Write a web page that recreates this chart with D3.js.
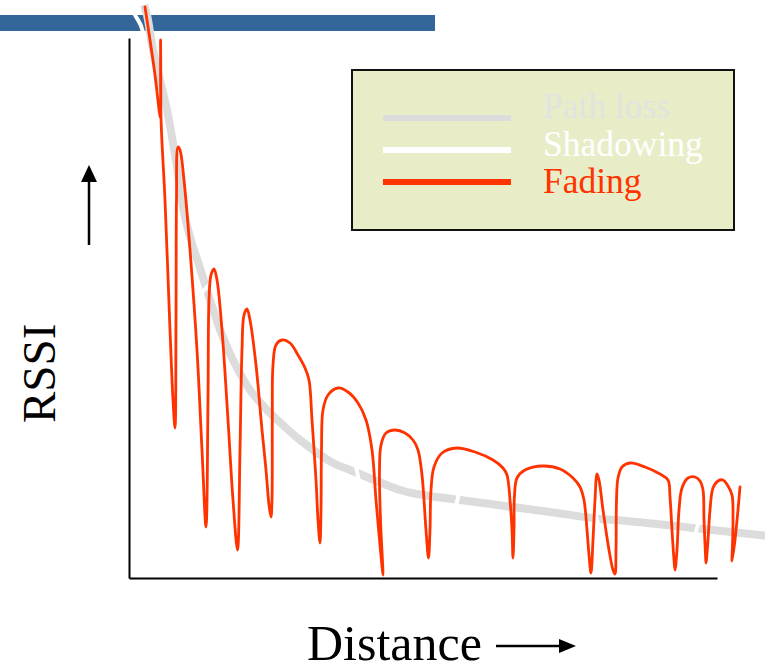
<!DOCTYPE html>
<html><head><meta charset="utf-8">
<script src="https://cdn.jsdelivr.net/npm/d3@7"></script>
<style>body{margin:0;background:#fff;} svg{display:block;}</style>
</head><body>
<svg id="chart" width="765" height="670"></svg>
<script>
// ---- data (distance units, RSSI units) ----
const fadingDist = [8,10.5,13,14.75,15.65,15.8,16,18,20.5,22,23,23.5,23.75,24.5,25.5,27.5,30.5,34,36.5,38.5,39.5,40,41,42.5,44,46.5,49.5,52,54.25,55.5,56.5,57.5,59,60.5,63.5,66.5,68.5,70,71,71.5,71.65,72,73.5,76.5,80.5,84.5,88,90,91.5,93.5,94.5,95.5,96,96.25,97,99.5,104.5,109.5,114.5,118.5,121.5,123.5,125.5,127,125.75,125.25,126,128.5,133,138,142,144.5,146.5,148.5,149.75,150.5,151,152.5,156.5,164,173,182,187,189,190.5,191.5,192,192.5,192.75,194,198,207,215.5,222,225.5,227.5,229,230,231,232,233,234,235,237,240,242,243,243.5,243.75,244.5,246.5,250.5,258,265.5,269.5,270.5,271.5,272.5,273,274,275,276.5,279.5,283,285.5,287,287.5,288.25,288.5,289.5,290.5,292,294.5,297,299.5,301.5,302,301.75,301.5,303,304.5,305.5];
const fadingRssi = [285.5,269,251.5,236.5,230,269,230,189,124,89,75,129,189,215.5,214,199,164,114,64,25.5,89,139,151.5,154.5,149,124,79,39,14,64,114,131.5,134.5,129,106.5,74,54,36.5,30.5,39,79,106.5,116.5,119,117.5,111.5,105,99,79,49,29,17.5,34,64,84,91.5,95,93,87.5,79,64,39,16.5,1.5,29,54,66.5,72.5,74,72.5,69,64,51.5,24,10,24,44,55.5,62.5,65,63,59,55,51.5,39,24,10,24,41.5,50,54,56,54.5,50,45.5,39,24,11.5,2.5,19,39,52,49,34,14,4,2,14,39,50,55.5,57.5,55.5,52,49,40.5,24,9,4,14,34,45,50,50.5,48.5,44,29,11.5,7.5,19,34,45,48.5,49,46,41.5,29,16.5,8.5,19,34,45.5];

const pathLossDist = [7.5,9,12,15.5,19,24,27,30.5,35.5,40.5,46.5,52,60.5,69,78,85.5,102,110.5,135.5,144,177,210.5,235.5,249,282,320];
const pathLossRssi = [286.5,281.5,264,249,234,205.5,185.5,170.5,155,139,121.5,109,94,84,75.5,69,57.5,54,44,42,37.5,33,29.5,28.5,25,21];

const shadowDist = [-2,3,7,10,15.5,21.5,28.5,34.5,38.5,42.5,50.5,65.5,80.5,95.5,108,111.5,116.5,123,145.5,161.5,167.5,175.5,205.5,230.5,237.5,250.5,275.5,280.5,287.5,300.5,320.5];
const shadowRssi = [291.5,281.5,273,254,224,189,164,141.5,145,148,139,104,84,71.5,64,63,43,39,34,31.5,49,49,44,39,19,16.5,16.5,16.5,34,36.5,34];

const legendLabels = ["Path loss", "Shadowing", "Fading"];
const xLabel = "Distance";
const yLabel = "RSSI";

// ---- drawing ----
const svg = d3.select("#chart");
const x = d3.scaleLinear().domain([0, 294]).range([129, 717]);
const y = d3.scaleLinear().domain([0, 270]).range([578, 38]);

const colors = {pathloss: "#dcdcdc", shadow: "#ffffff", fading: "#ff3300", bar: "#336699"};

// top banner bar
svg.append("rect").attr("x", 0).attr("y", 15).attr("width", 435).attr("height", 16).attr("fill", colors.bar);

// axes
const gx = svg.append("g").attr("transform", `translate(0,${y(0)})`)
  .call(d3.axisBottom(x).tickValues([]).tickSizeOuter(0));
const gy = svg.append("g").attr("transform", `translate(${x(0)},0)`)
  .call(d3.axisLeft(y).tickValues([]).tickSizeOuter(0));
[gx, gy].forEach(g => g.select(".domain").attr("stroke", "#000").attr("stroke-width", 2));

const mk = (xs, ys) => xs.map((d, i) => [d, ys[i]]);

const lineMono = d3.line().x(d => x(d[0])).y(d => y(d[1])).curve(d3.curveMonotoneX);
const lineCR = d3.line().x(d => x(d[0])).y(d => y(d[1])).curve(d3.curveCatmullRom.alpha(0.5));

svg.append("path").attr("d", lineCR(mk(pathLossDist, pathLossRssi)))
  .attr("fill", "none").attr("stroke", colors.pathloss).attr("stroke-width", 8);
svg.append("path").attr("d", lineMono(mk(shadowDist, shadowRssi)))
  .attr("fill", "none").attr("stroke", colors.shadow).attr("stroke-width", 4);
svg.append("path").attr("d", lineCR(mk(fadingDist, fadingRssi)))
  .attr("fill", "none").attr("stroke", colors.fading).attr("stroke-width", 2.8)
  .attr("stroke-linejoin", "round").attr("stroke-linecap", "round");

// legend
const lg = svg.append("g");
lg.append("rect").attr("x", 352).attr("y", 70).attr("width", 382).attr("height", 160)
  .attr("fill", "#e8edc8").attr("stroke", "#111").attr("stroke-width", 2);
const legendColors = [colors.pathloss, colors.shadow, colors.fading];
const textColors = ["#e2e3df", "#ffffff", colors.fading];
const lineY = [118, 150, 182];
const textY = [118, 156, 193];
legendLabels.forEach((lab, i) => {
  lg.append("line").attr("x1", 383).attr("x2", 511).attr("y1", lineY[i]).attr("y2", lineY[i])
    .attr("stroke", legendColors[i]).attr("stroke-width", 6);
  lg.append("text").attr("x", 543).attr("y", textY[i])
    .attr("font-family", "'Liberation Serif', serif").attr("font-size", 35.5)
    .attr("fill", textColors[i]).text(lab);
});

// axis labels
svg.append("text").attr("x", 307).attr("y", 660)
  .attr("font-family", "'Liberation Serif', serif").attr("font-size", 50)
  .attr("fill", "#000").text(xLabel);
svg.append("text").attr("transform", "translate(55,423) rotate(-90)")
  .attr("font-family", "'Liberation Serif', serif").attr("font-size", 47)
  .attr("fill", "#000").text(yLabel);

// arrows
svg.append("line").attr("x1", 496).attr("x2", 564).attr("y1", 646).attr("y2", 646)
  .attr("stroke", "#000").attr("stroke-width", 2.5);
svg.append("path").attr("d", "M576,646 L559,639 L559,653 Z").attr("fill", "#000");
svg.append("line").attr("x1", 89).attr("x2", 89).attr("y1", 245).attr("y2", 178)
  .attr("stroke", "#000").attr("stroke-width", 2.5);
svg.append("path").attr("d", "M89,165 L81,182 L97,182 Z").attr("fill", "#000");
</script>
</body></html>
